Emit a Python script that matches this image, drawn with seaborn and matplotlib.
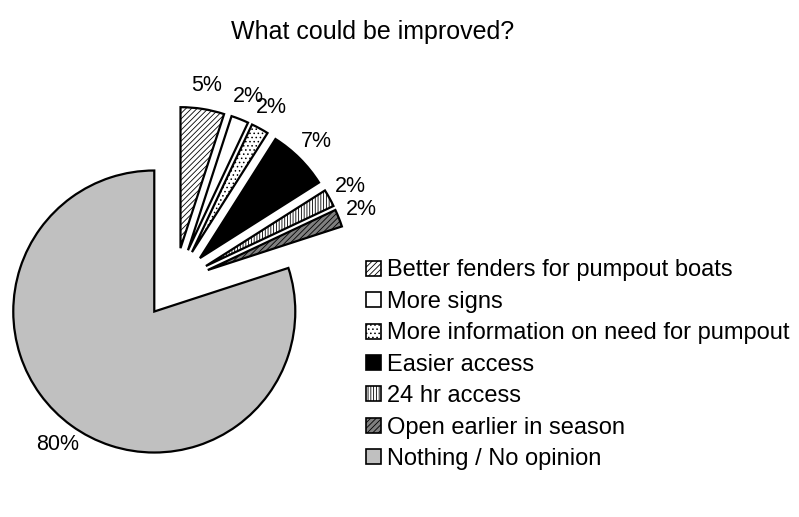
import seaborn as sns
import matplotlib.pyplot as plt
from matplotlib.patches import Patch

categories = ['Better fenders for pumpout boats', 'More signs',
              'More information on need for pumpout', 'Easier access',
              '24 hr access', 'Open earlier in season', 'Nothing / No opinion']
percent = [5, 2, 2, 7, 2, 2, 80]

faces = ['white', 'white', 'white', 'black', 'white', '#808080', '#c0c0c0']
hatches = ['//////', None, '....', None, '||||||', '//////', None]

sns.set_theme(style="white")
plt.rcParams['font.family'] = ['Liberation Sans', 'DejaVu Sans']
plt.rcParams['text.color'] = 'black'
plt.rcParams['hatch.linewidth'] = 0.6

fig = plt.figure(figsize=(7.99, 5.17), dpi=100)
# pie centre about (175, 283) px, radius 141 px
r = 141
ax = fig.add_axes([(175 - 1.25 * r) / 799, (517 - 283 - 1.25 * r) / 517,
                   2.5 * r / 799, 2.5 * r / 517])

wedges, texts, autotexts = ax.pie(
    percent, explode=[0.25] * len(percent), startangle=90, counterclock=False,
    autopct='%1.0f%%', pctdistance=1.17,
    wedgeprops=dict(edgecolor='black', linewidth=1.6),
    textprops=dict(fontsize=15.5, color='black'))
for w, fc, h in zip(wedges, faces, hatches):
    w.set_facecolor(fc)
    if h:
        w.set_hatch(h)
ax.set_xlim(-1.25, 1.25)
ax.set_ylim(-1.25, 1.25)
ax.set_aspect('equal')

handles = [Patch(facecolor=fc, edgecolor='black', hatch=h, linewidth=1.2)
           for fc, h in zip(faces, hatches)]
fig.legend(handles, categories, loc='upper left',
           bbox_to_anchor=(357 / 799, 1 - 250 / 517), frameon=False,
           fontsize=17, handlelength=0.6, handleheight=0.6,
           handletextpad=0.25, labelspacing=0.4, borderaxespad=0)

fig.text(373 / 799, 1 - 32 / 517, 'What could be improved?',
         ha='center', va='center', fontsize=18)

fig.savefig('out.png', dpi=100)
